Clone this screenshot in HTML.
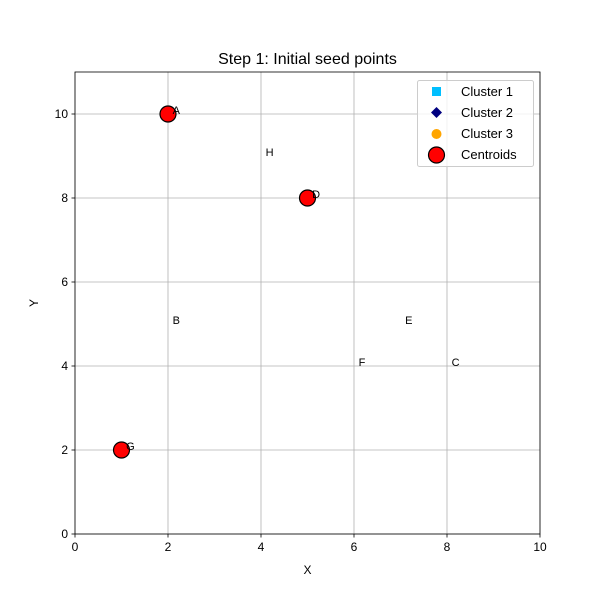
<!DOCTYPE html>
<html><head><meta charset="utf-8"><style>body{margin:0;background:#fff}svg{font-family:"Liberation Sans","DejaVu Sans",sans-serif}</style></head>
<body>
<svg id="c" width="600" height="600" xmlns="http://www.w3.org/2000/svg"></svg>
<script>
const labels=["A","B","C","D","E","F","G","H"];
const xs=[2,2,8,5,7,6,1,4];
const ys=[10,5,4,8,5,4,2,9];
const centroidX=[2,5,1];
const centroidY=[10,8,2];
const xTicks=[0,2,4,6,8,10];
const yTicks=[0,2,4,6,8,10];
const L=75,R=540,T=72,B=534,xMax=10,yMax=11;
const sx=v=>L+v/xMax*(R-L), sy=v=>B-v/yMax*(B-T);
const svg=document.getElementById('c');const NS='http://www.w3.org/2000/svg';
function mk(t,a,p){const e=document.createElementNS(NS,t);for(const k in a)e.setAttribute(k,a[k]);(p||svg).appendChild(e);return e;}
const grid=mk('g',{});


xTicks.forEach(v=>{mk('line',{x1:sx(v),x2:sx(v),y1:T,y2:B,stroke:'#b0b0b0','stroke-width':0.8},grid);
 mk('line',{x1:sx(v),x2:sx(v),y1:B,y2:B+3.5,stroke:'#000','stroke-width':0.8});
 const t=mk('text',{x:sx(v),y:B+17,'text-anchor':'middle','font-size':12});t.textContent=v;
 
 });
yTicks.forEach(v=>{mk('line',{x1:L,x2:R,y1:sy(v),y2:sy(v),stroke:'#b0b0b0','stroke-width':0.8},grid);
 mk('line',{x1:L-3.5,x2:L,y1:sy(v),y2:sy(v),stroke:'#000','stroke-width':0.8});
 const t=mk('text',{x:L-7,y:sy(v)+4,'text-anchor':'end','font-size':12});t.textContent=v;
 
 });
centroidX.forEach((cx,i)=>{const c=mk('circle',{cx:sx(cx),cy:sy(centroidY[i]),r:8,fill:'#ff0000',stroke:'#000','stroke-width':1.2});
 
 });
labels.forEach((l,i)=>{const t=mk('text',{x:sx(xs[i]+0.1),y:sy(ys[i]+0.05)+2,'font-size':11});t.textContent=l;
 
 });
const fr=mk('rect',{x:L,y:T,width:R-L,height:B-T,fill:'none',stroke:'#000','stroke-width':0.8});


</script>
<svg width="600" height="600" style="position:absolute;left:0;top:0" xmlns="http://www.w3.org/2000/svg" font-family="Liberation Sans, DejaVu Sans, sans-serif">
<text x="307.5" y="64" text-anchor="middle" font-size="16">Step 1: Initial seed points</text>
<text x="307.5" y="574" text-anchor="middle" font-size="12">X</text>
<text x="38" y="303" text-anchor="middle" font-size="12" transform="rotate(-90 38 303)">Y</text>
<g>
<rect x="417.5" y="80.5" width="116" height="86" rx="2" fill="#fff" fill-opacity="0.8" stroke="#ccc"/>
<rect x="432" y="87" width="9" height="9" fill="#00bfff"/>
<text x="461" y="96" font-size="13">Cluster 1</text>
<polygon points="436.5,107 442,112.5 436.5,118 431,112.5" fill="#000080"/>
<text x="461" y="117" font-size="13">Cluster 2</text>
<circle cx="436.5" cy="134" r="5" fill="#ffa500"/>
<text x="461" y="138" font-size="13">Cluster 3</text>
<circle cx="436.5" cy="155" r="8" fill="#ff0000" stroke="#000" stroke-width="1.2"/>
<text x="461" y="159" font-size="13">Centroids</text>
</g>
</svg>
</body></html>
